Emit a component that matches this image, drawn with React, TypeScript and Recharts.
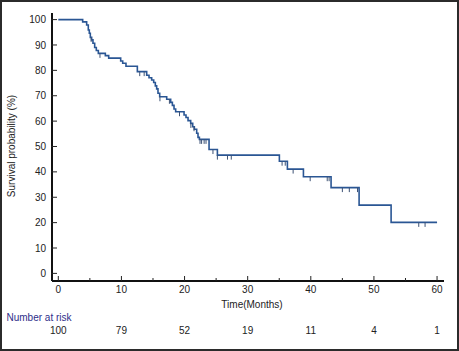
import React from 'react';
import { ComposedChart, Line, Scatter, XAxis, YAxis } from 'recharts';

// Kaplan-Meier step points (month where the level starts, survival %)
const kmTimes = [
  0, 3.86, 4.49, 4.75, 4.91, 5.07, 5.28, 5.49, 5.76, 6.02, 6.34, 7.45, 7.98, 9.88, 10.2, 10.72,
  12.52, 14.0, 14.37, 14.79, 15.11, 15.37, 15.58, 15.79, 16.06, 17.17, 17.8, 18.07, 18.33, 18.59,
  19.92, 20.23, 20.55, 20.97, 21.29, 21.55, 21.92, 22.13, 22.35, 23.88, 25.2, 35.02, 36.29, 38.83,
  43.21, 47.65, 52.72, 60,
];
const kmSurvival = [
  100, 99.1, 97.9, 95.9, 94.6, 93.0, 92.0, 90.7, 89.0, 87.8, 86.7, 85.8, 84.8, 83.7, 82.8, 81.6,
  79.5, 78.1, 77.1, 76.2, 75.2, 73.9, 72.7, 71.0, 69.6, 68.6, 67.4, 66.2, 64.8, 63.7,
  62.4, 61.4, 60.2, 59.1, 57.8, 56.8, 55.2, 53.6, 52.8, 48.8, 46.6, 44.2, 41.1, 38.1,
  33.8, 26.9, 20.1, 20.1,
];

// censored observations
const censorTimes = [
  5.2, 6.6, 12.9, 13.6, 16.1, 17.6, 19.2, 21.0, 21.5, 22.45, 22.7, 23.1, 23.4, 24.5, 25.2, 26.8,
  27.4, 35.45, 35.95, 37.2, 39.9, 42.6, 42.9, 45.0, 46.1, 47.4, 57.1, 58.1,
];
const censorSurvival = [
  93.0, 86.7, 79.5, 79.5, 69.6, 68.6, 63.7, 59.1, 57.8, 52.8, 52.8, 52.8, 52.8, 48.8, 46.6, 46.6,
  46.6, 44.2, 44.2, 41.1, 38.1, 38.1, 38.1, 33.8, 33.8, 33.8, 20.1, 20.1,
];

const xTicks = [0, 5, 10, 15, 20, 25, 30, 35, 40, 45, 50, 55, 60];
const yTicks = [0, 5, 10, 15, 20, 25, 30, 35, 40, 45, 50, 55, 60, 65, 70, 75, 80, 85, 90, 95, 100];
const riskTicks = [0, 10, 20, 30, 40, 50, 60];
const numberAtRisk = [100, 79, 52, 19, 11, 4, 1];

const kmData = kmTimes.map((t, i) => ({ t, s: kmSurvival[i] }));
const censorData = censorTimes.map((t, i) => ({ t, s: censorSurvival[i] }));

const FONT = '"Liberation Sans", Arial, sans-serif';
const LINE = '#2a5694';

const YTick = (props: any) => {
  const { x, y, payload } = props;
  const major = payload.value % 10 === 0;
  return (
    <g>
      <line x1={major ? x - 1 : x} x2={major ? x + 5 : x + 3} y1={y} y2={y} stroke="#222" strokeWidth={1} />
      {major && (
        <text x={x - 6} y={y} dy={3.6} textAnchor="end" fontSize={10} fill="#222" fontFamily={FONT}>
          {payload.value}
        </text>
      )}
    </g>
  );
};

const XTick = (props: any) => {
  const { x, y, payload } = props;
  const major = payload.value % 10 === 0;
  return (
    <g>
      <line x1={x} x2={x} y1={y} y2={major ? y - 5 : y - 3} stroke="#222" strokeWidth={1} />
      {major && (
        <text x={x} y={y + 12} textAnchor="middle" fontSize={10} fill="#222" fontFamily={FONT}>
          {payload.value}
        </text>
      )}
    </g>
  );
};

const RiskTick = (props: any) => {
  const { x, y, payload, index } = props;
  return (
    <text x={x} y={y + 23} textAnchor="middle" fontSize={10} fill="#222" fontFamily={FONT}>
      {numberAtRisk[index] ?? ''}
    </text>
  );
};

const CensorMark = (props: any) => {
  const { cx, cy } = props;
  return <line x1={cx} x2={cx} y1={cy} y2={cy + 4.5} stroke="#3d5275" strokeWidth={1} />;
};

export default function App() {
  return (
    <div style={{ position: 'absolute', left: 0, top: 0, width: 459, height: 351, background: '#fff' }}>
      <ComposedChart width={459} height={351} margin={{ top: 13, right: 15, left: 0, bottom: 0 }}>
        <XAxis
          dataKey="t"
          type="number"
          domain={[-1, 61.1]}
          ticks={xTicks}
          allowDataOverflow
          tickSize={0}
          tickMargin={0}
          tick={<XTick />}
          tickLine={false}
          axisLine={{ stroke: '#111', strokeWidth: 2 }}
          height={30}
          label={(p: any) => (
            <text
              x={p.viewBox.x + p.viewBox.width / 2 + 4}
              y={p.viewBox.y + 27}
              textAnchor="middle"
              fontSize={10}
              fill="#222"
              fontFamily={FONT}
            >
              Time(Months)
            </text>
          )}
        />
        <XAxis
          xAxisId="risk"
          dataKey="t"
          type="number"
          domain={[-1, 61.1]}
          ticks={riskTicks}
          allowDataOverflow
          tickSize={0}
          tickMargin={0}
          tick={<RiskTick />}
          tickLine={false}
          axisLine={false}
          height={40}
          label={(p: any) => (
            <text x={6.5} y={p.viewBox.y + 10} fontSize={10} fill="#2e2e8a" fontFamily={FONT}>
              Number at risk
            </text>
          )}
        />
        <YAxis
          dataKey="s"
          type="number"
          domain={[-3, 102.6]}
          ticks={yTicks}
          allowDataOverflow
          width={52}
          tickSize={0}
          tickMargin={0}
          tick={<YTick />}
          tickLine={false}
          axisLine={{ stroke: '#111', strokeWidth: 2 }}
          label={(p: any) => (
            <text
              x={11}
              y={146}
              transform="rotate(-90 11 146)"
              dy={3.5}
              textAnchor="middle"
              fontSize={10}
              fill="#222"
              fontFamily={FONT}
            >
              Survival probability (%)
            </text>
          )}
        />
        <Line
          data={kmData}
          dataKey="s"
          type="stepAfter"
          stroke={LINE}
          strokeWidth={1.6}
          dot={false}
          activeDot={false}
          isAnimationActive={false}
        />
        <Scatter data={censorData} dataKey="s" shape={<CensorMark />} isAnimationActive={false} />
      </ComposedChart>
      <div
        style={{
          position: 'absolute',
          left: 0,
          top: 0,
          width: 459,
          height: 351,
          boxSizing: 'border-box',
          border: '2px solid #2b2b2b',
          pointerEvents: 'none',
        }}
      />
    </div>
  );
}
